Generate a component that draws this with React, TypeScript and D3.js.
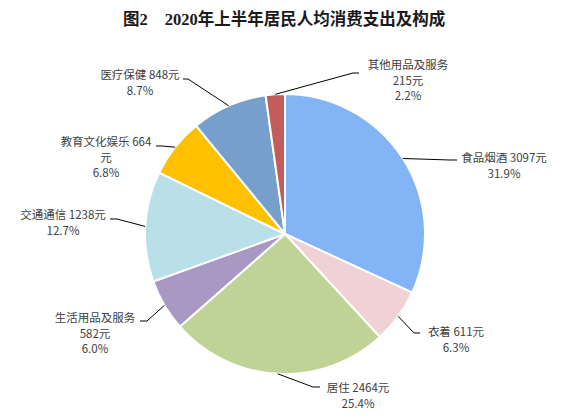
import * as d3 from "d3";

const categories = ["食品烟酒", "衣着", "居住", "生活用品及服务", "交通通信", "教育文化娱乐", "医疗保健", "其他用品及服务"];
const amounts = [3097, 611, 2464, 582, 1238, 664, 848, 215];
const shares = ["31.9%", "6.3%", "25.4%", "6.0%", "12.7%", "6.8%", "8.7%", "2.2%"];
// label text lines, as wrapped in the original
const labelLines = [
  ["食品烟酒 3097元", "31.9%"],
  ["衣着 611元", "6.3%"],
  ["居住 2464元", "25.4%"],
  ["生活用品及服务", "582元", "6.0%"],
  ["交通通信 1238元", "12.7%"],
  ["教育文化娱乐 664", "元", "6.8%"],
  ["医疗保健 848元", "8.7%"],
  ["其他用品及服务", "215元", "2.2%"],
];

const colors = ["#82B4F6", "#F0D2D4", "#C0D396", "#A998C3", "#B9DFE8", "#FFC000", "#779FCC", "#C55C5C"];

// label block centre / first baseline, and leader line elbow + end
const labelLayout = [
  {x: 504, y: 162, elbow: [450, 160], end: [457, 160]},
  {x: 456, y: 336, elbow: [414, 333], end: [420, 333]},
  {x: 358, y: 392, elbow: [313, 387], end: [320, 387]},
  {x: 95, y: 322, elbow: [147, 321], end: [140, 321]},
  {x: 63, y: 219, elbow: [117, 219], end: [110, 219]},
  {x: 106, y: 146, elbow: [162, 146], end: [156, 146]},
  {x: 140, y: 79, elbow: [188, 79], end: [183, 79]},
  {x: 408, y: 69, elbow: [353, 73], end: [359, 73]},
];

const width = 575;
const height = 418;
const cx = 285;
const cy = 234;
const radius = 140;

export default function App() {
  const data = categories.map((name, i) => ({name, value: amounts[i], share: shares[i], i}));
  const pie = d3.pie<(typeof data)[number]>().sort(null).value((d) => d.value);
  const arcs = pie(data);
  const arc = d3.arc<d3.PieArcDatum<(typeof data)[number]>>().innerRadius(0).outerRadius(radius);

  const labelFont = "'Noto Sans CJK SC', 'Noto Sans', sans-serif";

  return (
    <svg
      width={width}
      height={height}
      style={{position: "absolute", left: 0, top: 0, background: "#fff"}}
    >
      <text
        x={284}
        y={25}
        textAnchor="middle"
        style={{fontFamily: "'Liberation Serif', 'Noto Sans CJK SC', serif", fontWeight: "bold", fontSize: "16.5px"}}
        fill="#1a1a1a"
      >
        <tspan>图2</tspan>
        <tspan dx={17}>2020年上半年居民人均消费支出及构成</tspan>
      </text>

      <g transform={`translate(${cx},${cy})`}>
        {arcs.map((a) => (
          <path key={a.data.name} d={arc(a) ?? ""} fill={colors[a.data.i]} stroke="#fff" strokeWidth={2} />
        ))}
      </g>

      {/* leader lines */}
      {arcs.map((a) => {
        const mid = (a.startAngle + a.endAngle) / 2;
        const sx = cx + radius * Math.sin(mid);
        const sy = cy - radius * Math.cos(mid);
        const lay = labelLayout[a.data.i];
        return (
          <polyline
            key={"l" + a.data.name}
            points={`${sx},${sy} ${lay.elbow[0]},${lay.elbow[1]} ${lay.end[0]},${lay.end[1]}`}
            fill="none"
            stroke="#000"
            strokeWidth={1}
          />
        );
      })}

      {/* labels */}
      {labelLines.map((lines, i) => (
        <text
          key={"t" + i}
          x={labelLayout[i].x}
          y={labelLayout[i].y}
          textAnchor="middle"
          fill="#404040"
          style={{fontFamily: labelFont, fontSize: "11.5px"}}
        >
          {lines.map((ln, j) => (
            <tspan key={j} x={labelLayout[i].x} dy={j === 0 ? 0 : 15.7}>
              {ln}
            </tspan>
          ))}
        </text>
      ))}
    </svg>
  );
}
